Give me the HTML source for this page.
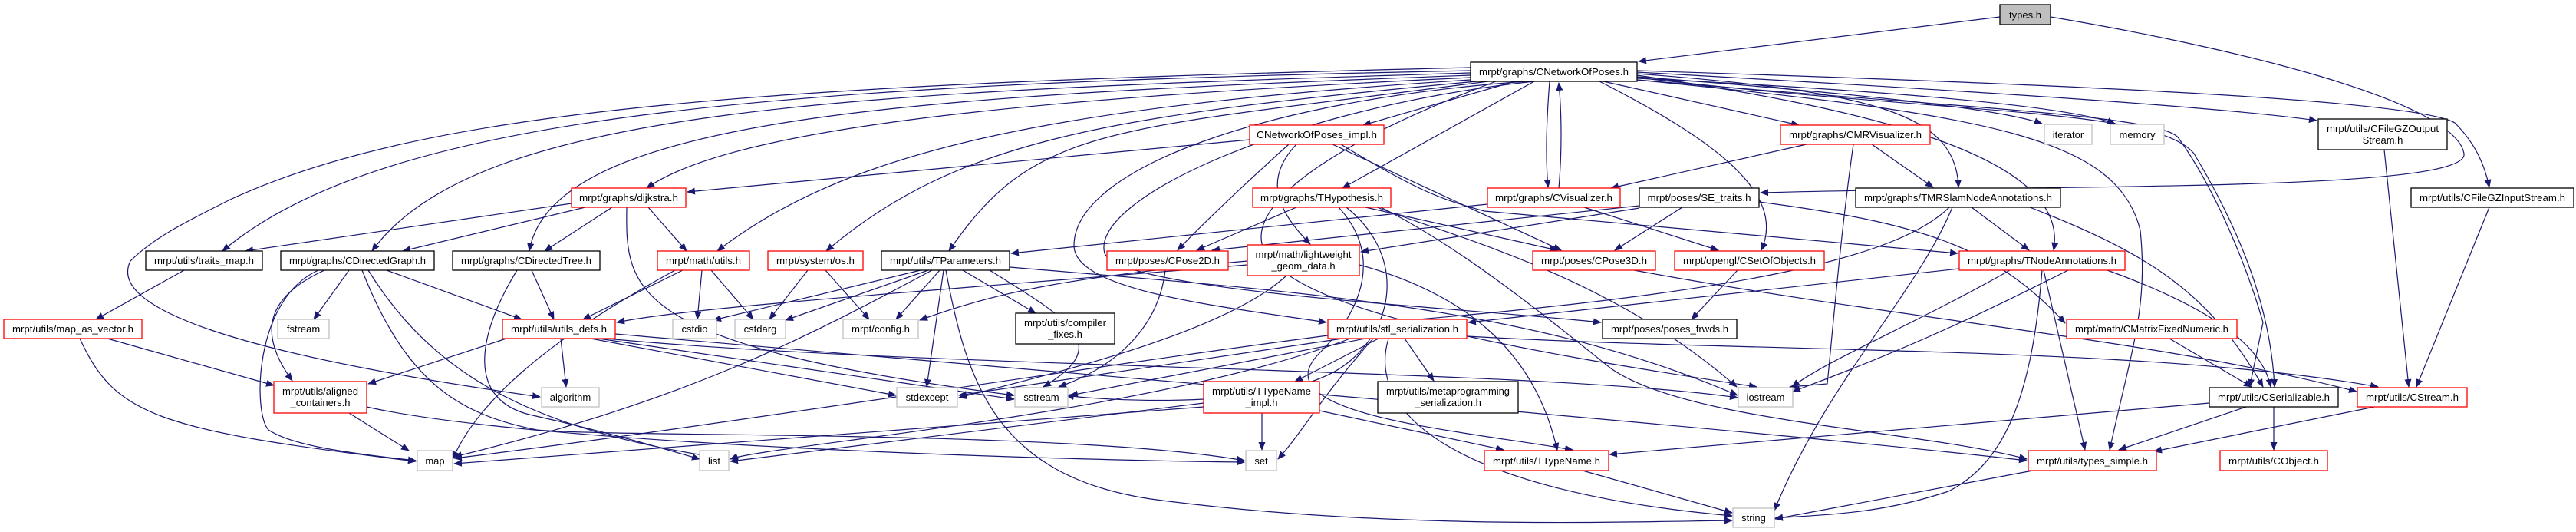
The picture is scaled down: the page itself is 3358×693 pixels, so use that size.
<!DOCTYPE html>
<html><head><meta charset="utf-8"><style>
html,body{margin:0;padding:0;background:#fff}
svg{display:block}
text{font-family:"Liberation Sans",sans-serif;font-size:13px;fill:#000}
.e{fill:none;stroke:#191970;stroke-width:1.2;marker-end:url(#a)}
.r{fill:#fff;stroke:#ff0000;stroke-width:1.3}
.b{fill:#fff;stroke:#000;stroke-width:1.3}
.g{fill:#fff;stroke:#bfbfbf;stroke-width:1.3}
</style></head><body>
<svg width="3358" height="693" viewBox="0 0 3358 693" xmlns="http://www.w3.org/2000/svg">
<defs><marker id="a" markerUnits="userSpaceOnUse" markerWidth="11" markerHeight="9" refX="10" refY="4.5" orient="auto"><path d="M0,0 L11,4.5 L0,9 z" fill="#191970"/></marker></defs>
<g>
<!-- types.h -->
<path class="e" d="M2607,22 L2136,80"/>
<path class="e" d="M2673,22 C2900,60 3200,130 3212,200 C3220,250 2700,240 2295,251"/>
<!-- CNetworkOfPoses out -->
<path class="e" d="M1917,88 C1000,110 560,140 300,260 C240,290 200,310 170,340 C140,400 300,460 704,517"/>
<path class="e" d="M1917,92 C1000,110 500,150 290,327"/>
<path class="e" d="M1917,95 C1100,120 620,140 485,327"/>
<path class="e" d="M1917,98 C1200,125 720,150 690,327"/>
<path class="e" d="M1917,101 C1300,130 950,170 843,245"/>
<path class="e" d="M1917,104 C1350,140 1100,200 935,327"/>
<path class="e" d="M1925,106 C1450,150 1250,180 1077,327"/>
<path class="e" d="M1940,106 C1450,170 1350,160 1237,327"/>
<path class="e" d="M1990,106 C1650,130 1400,220 1400,320 C1400,380 1600,400 1729,420"/>
<path class="e" d="M2000,106 C1680,140 1420,260 1440,330 C1460,380 1900,400 2087,420"/>
<path class="e" d="M1975,106 L1777,163"/>
<path class="e" d="M2000,106 L1750,245"/>
<path class="e" d="M2020,106 C2015,170 2015,210 2018,244"/>
<path class="e" d="M2032,245 C2036,200 2036,150 2032,108"/>
<path class="e" d="M2085,106 C2230,180 2330,250 2296,326"/>
<path class="e" d="M2090,106 L2345,163"/>
<path class="e" d="M2134,96 C2450,120 2550,150 2553,244"/>
<path class="e" d="M2134,98 C2420,140 2700,200 2677,326"/>
<path class="e" d="M2134,100 C2400,120 2600,140 2662,161"/>
<path class="e" d="M2134,102 C2500,120 2700,140 2757,161"/>
<path class="e" d="M2134,94 C2600,120 2900,140 3020,157"/>
<path class="e" d="M2134,92 C2700,110 3150,130 3200,160 C3230,190 3240,220 3245,244"/>
<path class="e" d="M2134,104 C2550,140 2820,150 2840,180 C2890,250 2930,350 2950,420 C2940,470 2935,490 2933,504"/>
<path class="e" d="M2134,101 C2550,150 2810,140 2860,200 C2920,300 2960,400 2965,504"/>
<path class="e" d="M2134,104 C2600,150 2760,180 2790,300 C2800,400 2780,450 2750,586"/>
<path class="e" d="M1950,106 C1700,200 1620,280 1650,330 C1700,410 2000,460 2290,504"/>
<!-- CNetworkOfPoses_impl -->
<path class="e" d="M1629,182 L896,250"/>
<path class="e" d="M1680,188 C1600,260 1560,300 1535,326"/>
<path class="e" d="M1690,188 C1650,230 1660,270 1708,318"/>
<path class="e" d="M1737,188 L2035,326"/>
<path class="e" d="M1748,188 C1850,250 1880,260 1935,275 C2200,300 2400,315 2552,330"/>
<!-- CMRVisualizer -->
<path class="e" d="M2355,188 L2100,245"/>
<path class="e" d="M2440,188 L2520,244"/>
<path class="e" d="M2416,188 C2400,300 2390,420 2382,500 L2333,504"/>
<!-- CVisualizer -->
<path class="e" d="M1939,266 L1318,330"/>
<path class="e" d="M2065,270 L2240,326"/>
<!-- SE_traits -->
<path class="e" d="M2193,270 L2105,326"/>
<path class="e" d="M2137,268 L1580,326"/>
<path class="e" d="M2137,271 L1774,328"/>
<path class="e" d="M2293,263 C2500,290 2600,320 2692,421"/>
<!-- THypothesis -->
<path class="e" d="M1690,270 L1560,326"/>
<path class="e" d="M1780,270 L2030,326"/>
<path class="e" d="M1745,270 C1800,330 1780,400 1720,460 C1640,540 1900,560 2050,586"/>
<path class="e" d="M1755,270 C1830,330 1820,420 1760,470 C1680,540 1420,520 1390,515"/>
<path class="e" d="M1800,270 C1900,320 2000,400 2100,480 C2200,550 2500,560 2642,598"/>
<path class="e" d="M1795,270 C1900,310 2100,360 2264,504"/>
<!-- TMRSlam -->
<path class="e" d="M2570,270 L2645,326"/>
<path class="e" d="M2541,270 C2480,330 2300,380 1800,420"/>
<path class="e" d="M2545,270 C2500,380 2380,500 2313,665"/>
<path class="e" d="M2646,270 C2800,330 2880,380 2950,504"/>
<!-- TNodeAnnotations -->
<path class="e" d="M2554,350 L1914,420"/>
<path class="e" d="M2620,352 C2500,420 2380,470 2336,504"/>
<path class="e" d="M2664,352 L2718,586"/>
<path class="e" d="M2662,352 C2650,500 2620,600 2540,640 C2450,670 2380,670 2314,675"/>
<path class="e" d="M2747,352 C2880,400 2950,450 2960,504"/>
<path class="e" d="M2700,350 C2600,400 2500,450 2337,510"/>
<!-- CMatrix, CSerializable, CStream -->
<path class="e" d="M2828,441 L2935,504"/>
<path class="e" d="M2928,530 L2762,586"/>
<path class="e" d="M2964,530 L2964,586"/>
<path class="e" d="M2880,525 L2098,592"/>
<path class="e" d="M3095,530 L2808,588"/>
<path class="e" d="M3108,195 L3140,504"/>
<path class="e" d="M3245,270 L3150,504"/>
<!-- stl_serialization -->
<path class="e" d="M1797,441 L1688,497"/>
<path class="e" d="M1831,441 L1869,496"/>
<path class="e" d="M1912,438 C2300,460 2800,450 3100,504"/>
<path class="e" d="M1780,441 L1395,515"/>
<path class="e" d="M1750,441 L1250,515"/>
<path class="e" d="M1790,441 C1720,520 1700,560 1666,598"/>
<path class="e" d="M1760,441 C1500,540 1000,580 952,598"/>
<path class="e" d="M1731,437 C1400,480 900,560 592,597"/>
<path class="e" d="M1810,441 C1780,540 1900,640 2258,672"/>
<!-- TTypeName_impl, TTypeName, types_simple -->
<path class="e" d="M1645,538 L1645,586"/>
<path class="e" d="M1569,525 L952,601"/>
<path class="e" d="M1569,530 L592,604"/>
<path class="e" d="M1720,535 L1960,586"/>
<path class="e" d="M2063,613 L2258,668"/>
<path class="e" d="M2650,613 L2314,676"/>
<!-- TParameters -->
<path class="e" d="M1200,352 L930,417"/>
<path class="e" d="M1210,352 L1024,417"/>
<path class="e" d="M1225,352 L1168,416"/>
<path class="e" d="M1255,352 L1350,408"/>
<path class="e" d="M1230,352 L1208,504"/>
<path class="e" d="M1290,352 C1400,420 1450,450 1360,504"/>
<path class="e" d="M1233,352 C1260,500 1300,620 1500,650 C1800,690 2100,680 2258,678"/>
<path class="e" d="M1215,352 C1050,440 900,520 592,595"/>
<path class="e" d="M1316,348 C1700,380 2000,400 2265,515"/>
<!-- math/utils -->
<path class="e" d="M915,352 L909,416"/>
<path class="e" d="M927,352 L982,416"/>
<path class="e" d="M890,352 L760,416"/>
<path class="e" d="M880,352 C700,450 620,530 590,598"/>
<!-- system/os -->
<path class="e" d="M1053,352 L1003,416"/>
<path class="e" d="M1076,352 L1133,416"/>
<!-- dijkstra -->
<path class="e" d="M745,265 L320,327"/>
<path class="e" d="M763,270 L525,327"/>
<path class="e" d="M798,270 L710,327"/>
<path class="e" d="M845,270 L895,327"/>
<path class="e" d="M817,270 C815,380 820,450 1322,515"/>
<!-- traits_map, map_as_vector -->
<path class="e" d="M240,352 L125,416"/>
<path class="e" d="M140,441 L357,502"/>
<path class="e" d="M104,441 C150,540 200,560 542,601"/>
<!-- CDirectedGraph -->
<path class="e" d="M455,352 L409,416"/>
<path class="e" d="M423,352 C340,390 340,440 381,496"/>
<path class="e" d="M415,352 C330,390 330,540 350,560 C380,580 450,590 542,600"/>
<path class="e" d="M504,352 L680,416"/>
<path class="e" d="M472,352 C530,500 600,540 700,560 C800,570 1400,560 1622,600"/>
<path class="e" d="M480,352 C560,480 680,560 950,598"/>
<!-- CDirectedTree -->
<path class="e" d="M693,352 L722,416"/>
<path class="e" d="M674,352 C620,440 610,520 690,540 C780,560 850,580 912,598"/>
<!-- utils_defs -->
<path class="e" d="M731,441 L738,504"/>
<path class="e" d="M770,441 L1168,515"/>
<path class="e" d="M780,441 L1322,520"/>
<path class="e" d="M790,441 C1200,480 2000,480 2265,518"/>
<path class="e" d="M660,441 L480,500"/>
<path class="e" d="M802,435 C1200,470 2300,560 2642,600"/>
<!-- aligned -->
<path class="e" d="M455,538 L533,587"/>
<path class="e" d="M478,530 C700,580 1400,600 1622,602"/>
<!-- lightweight -->
<path class="e" d="M1626,340 C1400,360 1300,380 1199,417"/>
<path class="e" d="M1626,345 C1200,380 900,400 804,420"/>
<path class="e" d="M1772,345 C1900,380 2000,450 2030,587"/>
<path class="e" d="M1677,359 C1600,430 1400,480 1250,518"/>
<!-- CPose2D, CPose3D, CSetOfObjects -->
<path class="e" d="M1519,352 C1510,430 1450,480 1380,504"/>
<path class="e" d="M2130,352 C2500,420 2800,440 3072,510"/>
<path class="e" d="M2265,352 L2205,416"/>
</g>
<g>
<rect class="b" x="2607" y="6" width="66" height="26" style="fill:#bfbfbf"/><text x="2640" y="24" text-anchor="middle">types.h</text>
<rect class="b" x="1917" y="81" width="217" height="25"/><text x="2025.5" y="98" text-anchor="middle" textLength="195" lengthAdjust="spacingAndGlyphs">mrpt/graphs/CNetworkOfPoses.h</text>
<rect class="r" x="1629" y="163" width="175" height="25"/><text x="1716.5" y="180" text-anchor="middle" textLength="157" lengthAdjust="spacingAndGlyphs">CNetworkOfPoses_impl.h</text>
<rect class="r" x="2321" y="163" width="195" height="25"/><text x="2418.5" y="180" text-anchor="middle" textLength="173" lengthAdjust="spacingAndGlyphs">mrpt/graphs/CMRVisualizer.h</text>
<rect class="g" x="2665" y="162" width="62" height="26"/><text x="2696" y="180" text-anchor="middle">iterator</text>
<rect class="g" x="2751" y="162" width="70" height="26"/><text x="2786" y="180" text-anchor="middle">memory</text>
<rect class="b" x="3022" y="155" width="168" height="40"/><text x="3106" y="172" text-anchor="middle" textLength="146" lengthAdjust="spacingAndGlyphs">mrpt/utils/CFileGZOutput</text><text x="3106" y="187" text-anchor="middle">Stream.h</text>
<rect class="r" x="745" y="245" width="149" height="25"/><text x="819.5" y="262" text-anchor="middle" textLength="129" lengthAdjust="spacingAndGlyphs">mrpt/graphs/dijkstra.h</text>
<rect class="r" x="1633" y="245" width="180" height="25"/><text x="1723" y="262" text-anchor="middle" textLength="160" lengthAdjust="spacingAndGlyphs">mrpt/graphs/THypothesis.h</text>
<rect class="r" x="1939" y="245" width="173" height="25"/><text x="2025.5" y="262" text-anchor="middle" textLength="153" lengthAdjust="spacingAndGlyphs">mrpt/graphs/CVisualizer.h</text>
<rect class="b" x="2137" y="245" width="156" height="25"/><text x="2215" y="262" text-anchor="middle" textLength="135" lengthAdjust="spacingAndGlyphs">mrpt/poses/SE_traits.h</text>
<rect class="b" x="2419" y="245" width="267" height="25"/><text x="2552.5" y="262" text-anchor="middle" textLength="245" lengthAdjust="spacingAndGlyphs">mrpt/graphs/TMRSlamNodeAnnotations.h</text>
<rect class="b" x="3143" y="245" width="212" height="25"/><text x="3249" y="262" text-anchor="middle" textLength="190" lengthAdjust="spacingAndGlyphs">mrpt/utils/CFileGZInputStream.h</text>
<rect class="b" x="190" y="327" width="152" height="25"/><text x="266" y="344" text-anchor="middle" textLength="130" lengthAdjust="spacingAndGlyphs">mrpt/utils/traits_map.h</text>
<rect class="b" x="366" y="327" width="200" height="25"/><text x="466" y="344" text-anchor="middle" textLength="178" lengthAdjust="spacingAndGlyphs">mrpt/graphs/CDirectedGraph.h</text>
<rect class="b" x="590" y="327" width="192" height="25"/><text x="686" y="344" text-anchor="middle" textLength="170" lengthAdjust="spacingAndGlyphs">mrpt/graphs/CDirectedTree.h</text>
<rect class="r" x="857" y="327" width="120" height="25"/><text x="917" y="344" text-anchor="middle" textLength="98" lengthAdjust="spacingAndGlyphs">mrpt/math/utils.h</text>
<rect class="r" x="1001" y="327" width="124" height="25"/><text x="1063" y="344" text-anchor="middle" textLength="102" lengthAdjust="spacingAndGlyphs">mrpt/system/os.h</text>
<rect class="b" x="1149" y="327" width="167" height="25"/><text x="1232.5" y="344" text-anchor="middle" textLength="145" lengthAdjust="spacingAndGlyphs">mrpt/utils/TParameters.h</text>
<rect class="r" x="1443" y="327" width="158" height="25"/><text x="1522" y="344" text-anchor="middle" textLength="136" lengthAdjust="spacingAndGlyphs">mrpt/poses/CPose2D.h</text>
<rect class="r" x="1626" y="319" width="146" height="40"/><text x="1699" y="336" text-anchor="middle" textLength="125" lengthAdjust="spacingAndGlyphs">mrpt/math/lightweight</text><text x="1699" y="351" text-anchor="middle">_geom_data.h</text>
<rect class="r" x="1998" y="327" width="160" height="25"/><text x="2078" y="344" text-anchor="middle" textLength="138" lengthAdjust="spacingAndGlyphs">mrpt/poses/CPose3D.h</text>
<rect class="r" x="2183" y="327" width="195" height="25"/><text x="2280.5" y="344" text-anchor="middle" textLength="173" lengthAdjust="spacingAndGlyphs">mrpt/opengl/CSetOfObjects.h</text>
<rect class="r" x="2554" y="327" width="216" height="25"/><text x="2662" y="344" text-anchor="middle" textLength="194" lengthAdjust="spacingAndGlyphs">mrpt/graphs/TNodeAnnotations.h</text>
<rect class="r" x="5" y="416" width="180" height="25"/><text x="95" y="433" text-anchor="middle" textLength="158" lengthAdjust="spacingAndGlyphs">mrpt/utils/map_as_vector.h</text>
<rect class="g" x="362" y="416" width="67" height="25"/><text x="395.5" y="433" text-anchor="middle">fstream</text>
<rect class="r" x="655" y="416" width="147" height="25"/><text x="728.5" y="433" text-anchor="middle" textLength="125" lengthAdjust="spacingAndGlyphs">mrpt/utils/utils_defs.h</text>
<rect class="g" x="877" y="416" width="57" height="25"/><text x="905.5" y="433" text-anchor="middle">cstdio</text>
<rect class="g" x="958" y="416" width="66" height="25"/><text x="991" y="433" text-anchor="middle">cstdarg</text>
<rect class="g" x="1099" y="416" width="98" height="25"/><text x="1148" y="433" text-anchor="middle" textLength="76" lengthAdjust="spacingAndGlyphs">mrpt/config.h</text>
<rect class="b" x="1324" y="408" width="129" height="40"/><text x="1388.5" y="425" text-anchor="middle" textLength="107" lengthAdjust="spacingAndGlyphs">mrpt/utils/compiler</text><text x="1388.5" y="440" text-anchor="middle">_fixes.h</text>
<rect class="r" x="1731" y="416" width="181" height="25"/><text x="1821.5" y="433" text-anchor="middle" textLength="159" lengthAdjust="spacingAndGlyphs">mrpt/utils/stl_serialization.h</text>
<rect class="b" x="2089" y="416" width="175" height="25"/><text x="2176.5" y="433" text-anchor="middle" textLength="153" lengthAdjust="spacingAndGlyphs">mrpt/poses/poses_frwds.h</text>
<rect class="r" x="2694" y="416" width="222" height="25"/><text x="2805" y="433" text-anchor="middle" textLength="200" lengthAdjust="spacingAndGlyphs">mrpt/math/CMatrixFixedNumeric.h</text>
<rect class="r" x="357" y="497" width="121" height="41"/><text x="417.5" y="514" text-anchor="middle" textLength="99" lengthAdjust="spacingAndGlyphs">mrpt/utils/aligned</text><text x="417.5" y="529" text-anchor="middle">_containers.h</text>
<rect class="g" x="706" y="505" width="75" height="25"/><text x="743.5" y="522" text-anchor="middle">algorithm</text>
<rect class="g" x="1169" y="505" width="79" height="25"/><text x="1208.5" y="522" text-anchor="middle">stdexcept</text>
<rect class="g" x="1323" y="505" width="69" height="25"/><text x="1357.5" y="522" text-anchor="middle">sstream</text>
<rect class="r" x="1569" y="497" width="151" height="41"/><text x="1644.5" y="514" text-anchor="middle" textLength="129" lengthAdjust="spacingAndGlyphs">mrpt/utils/TTypeName</text><text x="1644.5" y="529" text-anchor="middle">_impl.h</text>
<rect class="b" x="1796" y="497" width="183" height="41"/><text x="1887.5" y="514" text-anchor="middle" textLength="161" lengthAdjust="spacingAndGlyphs">mrpt/utils/metaprogramming</text><text x="1887.5" y="529" text-anchor="middle">_serialization.h</text>
<rect class="g" x="2266" y="505" width="71" height="25"/><text x="2301.5" y="522" text-anchor="middle">iostream</text>
<rect class="b" x="2880" y="505" width="168" height="25"/><text x="2964" y="522" text-anchor="middle" textLength="146" lengthAdjust="spacingAndGlyphs">mrpt/utils/CSerializable.h</text>
<rect class="r" x="3073" y="505" width="143" height="25"/><text x="3144.5" y="522" text-anchor="middle" textLength="121" lengthAdjust="spacingAndGlyphs">mrpt/utils/CStream.h</text>
<rect class="g" x="544" y="587" width="46" height="26"/><text x="567" y="605" text-anchor="middle">map</text>
<rect class="g" x="912" y="587" width="38" height="26"/><text x="931" y="605" text-anchor="middle">list</text>
<rect class="g" x="1624" y="587" width="40" height="26"/><text x="1644" y="605" text-anchor="middle">set</text>
<rect class="r" x="1935" y="587" width="162" height="26"/><text x="2016" y="605" text-anchor="middle" textLength="140" lengthAdjust="spacingAndGlyphs">mrpt/utils/TTypeName.h</text>
<rect class="r" x="2644" y="587" width="167" height="26"/><text x="2727.5" y="605" text-anchor="middle" textLength="145" lengthAdjust="spacingAndGlyphs">mrpt/utils/types_simple.h</text>
<rect class="r" x="2894" y="587" width="140" height="26"/><text x="2964" y="605" text-anchor="middle" textLength="118" lengthAdjust="spacingAndGlyphs">mrpt/utils/CObject.h</text>
<rect class="g" x="2259" y="662" width="54" height="25"/><text x="2286" y="679" text-anchor="middle">string</text>
</g>
</svg>
</body></html>
